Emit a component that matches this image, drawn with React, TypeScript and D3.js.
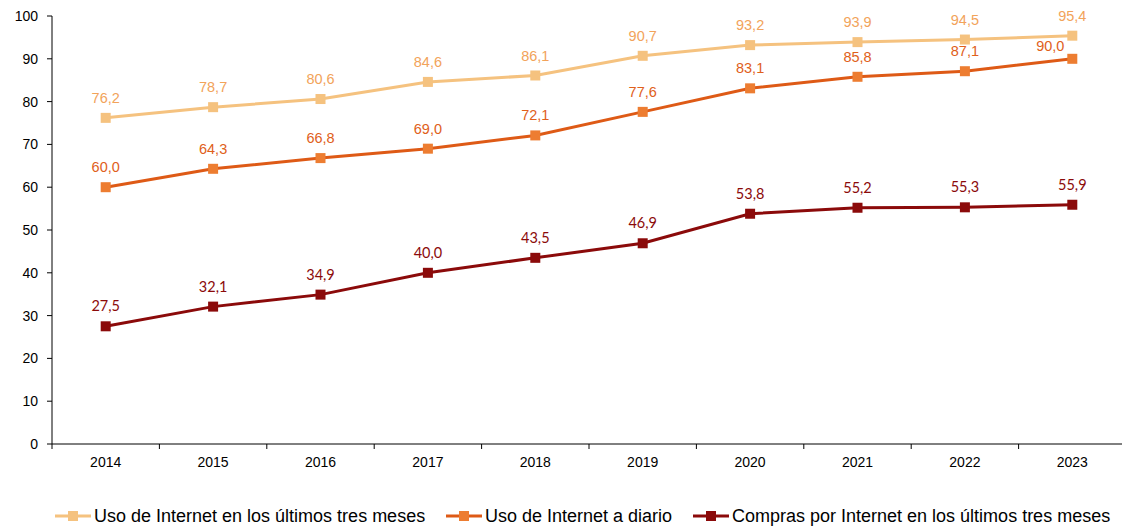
import React from "react";
import * as d3 from "d3";

const years = ["2014","2015","2016","2017","2018","2019","2020","2021","2022","2023"];
const usoTresMeses = [76.2,78.7,80.6,84.6,86.1,90.7,93.2,93.9,94.5,95.4];
const usoDiario = [60.0,64.3,66.8,69.0,72.1,77.6,83.1,85.8,87.1,90.0];
const compras = [27.5,32.1,34.9,40.0,43.5,46.9,53.8,55.2,55.3,55.9];
const yTicks = [0,10,20,30,40,50,60,70,80,90,100];
const seriesNames = [
  "Uso de Internet en los últimos tres meses",
  "Uso de Internet a diario",
  "Compras por Internet en los últimos tres meses",
];

const W = 1122, H = 526;
const left = 52, right = 1126, top = 16, bottom = 444;

const series = [
  { name: seriesNames[0], values: usoTresMeses, line: "#F5C27F", marker: "#F5C27F", label: "#F2A35A", font: "Liberation Sans, Arial, sans-serif" },
  { name: seriesNames[1], values: usoDiario, line: "#DE5A16", marker: "#ED7D31", label: "#E0601A", font: "Liberation Sans, Arial, sans-serif" },
  { name: seriesNames[2], values: compras, line: "#8B0A0A", marker: "#8B0A0A", label: "#8B0A0A", font: "Lato, 'Open Sans', sans-serif" },
];

const legendX = [55, 446, 693];

export default function App() {
  const x = d3.scaleBand<string>().domain(years).range([left, right]);
  const y = d3.scaleLinear().domain([0, 100]).range([bottom, top]);
  const cx = (yr: string) => (x(yr) as number) + x.bandwidth() / 2;
  const line = d3.line<number>().x((_, i) => cx(years[i])).y((d) => y(d));
  const fmt = (v: number) => v.toFixed(1).replace(".", ",");
  const xTickPos = years.map((yr) => x(yr) as number).concat([right]);

  return (
    <svg width={W} height={H} style={{ position: "absolute", left: 0, top: 0, background: "#fff" }}>
      <line x1={left} x2={left} y1={top} y2={bottom} stroke="#000" strokeWidth={1} />
      {yTicks.map((t) => (
        <g key={t}>
          <line x1={left - 5} x2={left} y1={y(t)} y2={y(t)} stroke="#000" />
          <text x={38} y={y(t)} dy="0.35em" textAnchor="end" fontSize={14} fontFamily="Liberation Sans, Arial, sans-serif" fill="#000">{t}</text>
        </g>
      ))}
      <line x1={left} x2={right} y1={bottom} y2={bottom} stroke="#000" strokeWidth={1} />
      {xTickPos.map((p, i) => (
        <line key={i} x1={p} x2={p} y1={bottom} y2={bottom + 5} stroke="#000" />
      ))}
      {years.map((yr) => (
        <text key={yr} x={cx(yr)} y={462} dy="0.35em" textAnchor="middle" fontSize={14} fontFamily="Liberation Sans, Arial, sans-serif" fill="#000">{yr}</text>
      ))}
      {series.map((s, si) => (
        <g key={si}>
          <path d={line(s.values) || ""} fill="none" stroke={s.line} strokeWidth={3} />
          {s.values.map((v, i) => (
            <rect key={i} x={cx(years[i]) - 5} y={y(v) - 5} width={10} height={10} fill={s.marker} />
          ))}
          {s.values.map((v, i) => {
            const shiftLeft = si === 1 && i === years.length - 1;
            return (
              <text key={"l" + i}
                x={cx(years[i]) + (shiftLeft ? -22 : 0)}
                y={y(v) - (shiftLeft ? 13 : 20)}
                dy="0.35em" textAnchor="middle"
                fontSize={14.5} fontFamily={s.font} fill={s.label}>{fmt(v)}</text>
            );
          })}
        </g>
      ))}
      {series.map((s, si) => (
        <g key={"lg" + si}>
          <line x1={legendX[si]} x2={legendX[si] + 36} y1={516} y2={516} stroke={s.line} strokeWidth={3} />
          <rect x={legendX[si] + 13} y={511} width={10} height={10} fill={s.marker} />
          <text x={legendX[si] + 39} y={516} dy="0.35em" fontSize={18} fontFamily="Liberation Sans, Arial, sans-serif" fill="#000">{s.name}</text>
        </g>
      ))}
    </svg>
  );
}
